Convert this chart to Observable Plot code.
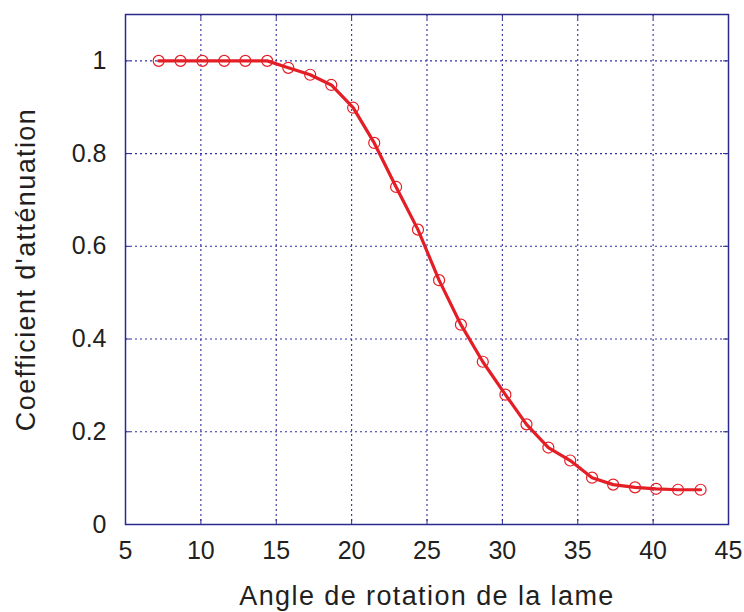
<!DOCTYPE html>
<html>
<head>
<meta charset="utf-8">
<script src="https://cdn.jsdelivr.net/npm/d3@7"></script>
<script src="https://cdn.jsdelivr.net/npm/@observablehq/plot@0.6"></script>
<style>
  html, body { margin: 0; padding: 0; background: #fff; }
  svg { display: block; }
  .axlabel text { letter-spacing: 1.4px; }
</style>
</head>
<body>
<div id="chart"></div>
<script>
const angles = [7.2, 8.65, 10.1, 11.55, 12.95, 14.4, 15.8, 17.25, 18.65, 20.1, 21.5, 22.95, 24.4, 25.8, 27.25, 28.7, 30.2, 31.6, 33.05, 34.5, 35.95, 37.35, 38.8, 40.2, 41.65, 43.15];
const coeffs = [1, 1, 1, 1, 1, 1, 0.985, 0.97, 0.948, 0.899, 0.823, 0.728, 0.636, 0.527, 0.431, 0.351, 0.28, 0.216, 0.166, 0.138, 0.101, 0.086, 0.08, 0.077, 0.075, 0.075];
const xTicks = [5, 10, 15, 20, 25, 30, 35, 40, 45];
const yTicks = [0, 0.2, 0.4, 0.6, 0.8, 1];
const xLabel = "Angle de rotation de la lame";
const yLabel = "Coefficient d'atténuation";

const data = angles.map((a, i) => ({angle: a, coeff: coeffs[i]}));
const gridCol = "#3030a4";
const frameCol = "#2a2a8e";
const red = "#e41e26";
const W = 744, H = 612, mL = 125, mR = 16, mT = 14, mB = 88;
const pw = W - mL - mR, ph = H - mT - mB;

const chart = Plot.plot({
  width: W, height: H,
  marginLeft: mL, marginRight: mR, marginTop: mT, marginBottom: mB,
  style: {fontFamily: "'Liberation Sans', Arial, sans-serif", color: "#231f20", background: "#fff"},
  x: {domain: [5, 45]},
  y: {domain: [0, 1.1]},
  marks: [
    Plot.gridX(xTicks.slice(1, -1), {stroke: gridCol, strokeOpacity: 1, strokeWidth: 1.1, strokeDasharray: "2,3"}),
    Plot.gridY(yTicks.slice(1), {stroke: gridCol, strokeOpacity: 1, strokeWidth: 1.1, strokeDasharray: "2,3"}),
    Plot.tickY(yTicks, {y: d => d, stroke: frameCol, insetRight: pw - 5}),
    Plot.tickY(yTicks, {y: d => d, stroke: frameCol, insetLeft: pw - 5}),
    Plot.tickX(xTicks, {x: d => d, stroke: frameCol, insetTop: ph - 5}),
    Plot.tickX(xTicks, {x: d => d, stroke: frameCol, insetBottom: ph - 5}),
    Plot.frame({stroke: frameCol, strokeWidth: 1.5}),
    Plot.axisX({ticks: xTicks, tickSize: 0, tickPadding: 17, fontSize: 25, label: null, tickFormat: d => String(d)}),
    Plot.axisY({ticks: yTicks, tickSize: 0, tickPadding: 19, fontSize: 25, label: null, tickFormat: d => String(d)}),
    Plot.line(data, {x: "angle", y: "coeff", stroke: red, strokeWidth: 3.2}),
    Plot.dot(data, {x: "angle", y: "coeff", r: 5.5, stroke: red, strokeWidth: 1.2, fill: "none"}),
    Plot.text([xLabel], {text: d => d, frameAnchor: "bottom", lineAnchor: "bottom", dy: 80, fontSize: 27, fill: "#231f20", className: "axlabel"}),
    Plot.text([yLabel], {text: d => d, frameAnchor: "left", textAnchor: "middle", lineAnchor: "middle", dx: -99, rotate: -90, fontSize: 27, fill: "#231f20", className: "axlabel"})
  ]
});
document.getElementById("chart").appendChild(chart);
</script>
</body>
</html>
